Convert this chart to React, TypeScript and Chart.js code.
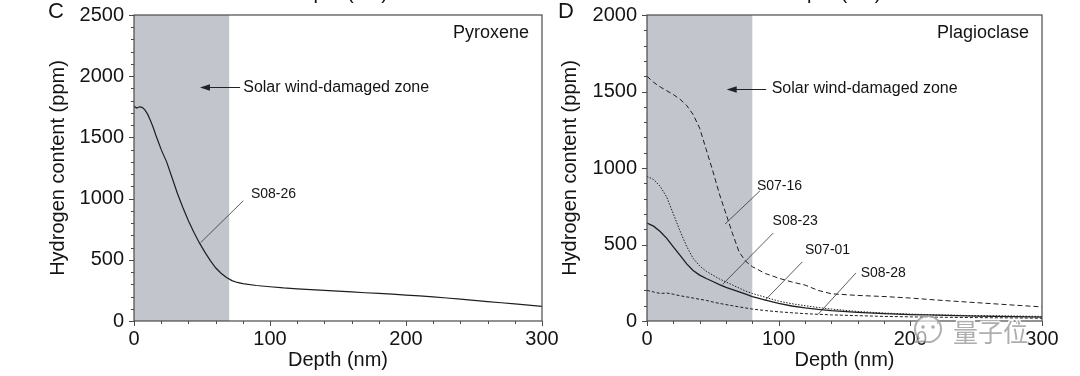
import React, { useEffect, useRef } from 'react';
import { Chart, registerables } from 'chart.js';

Chart.register(...registerables);

const FONT = '"Liberation Sans", Arial, Helvetica, sans-serif';
const INK = '#141414';

// ---------- Panel C (Pyroxene) ----------
const depthC = [0, 2, 4, 6, 8, 10, 12, 14, 16, 18, 20, 24, 28, 32, 36, 40, 44, 48, 52, 56, 60, 64, 68, 72, 76, 80, 90, 100, 110, 120, 130, 140, 150, 160, 170, 180, 190, 200, 210, 220, 230, 240, 250, 260, 270, 280, 290, 300];
const s0826 = [1755, 1740, 1750, 1745, 1725, 1690, 1640, 1585, 1520, 1460, 1400, 1300, 1170, 1040, 925, 820, 725, 640, 565, 495, 435, 390, 355, 330, 315, 305, 290, 280, 270, 263, 256, 250, 244, 238, 231, 225, 219, 212, 205, 197, 188, 178, 168, 158, 149, 140, 130, 120];

// ---------- Panel D (Plagioclase) ----------
const depthD = [0, 5, 10, 15, 20, 25, 30, 35, 40, 45, 50, 55, 60, 65, 70, 75, 80, 90, 100, 110, 120, 130, 140, 160, 180, 200, 220, 250, 280, 300];
const s0716 = [1600, 1560, 1530, 1505, 1480, 1450, 1410, 1350, 1260, 1120, 980, 830, 700, 570, 450, 390, 355, 310, 280, 255, 235, 200, 178, 167, 160, 150, 137, 120, 103, 92];
const s0823 = [640, 620, 585, 540, 485, 430, 375, 330, 300, 278, 258, 238, 220, 205, 190, 175, 160, 137, 115, 98, 86, 76, 68, 57, 48, 42, 38, 32, 28, 25];
const s0701 = [945, 925, 880, 810, 700, 590, 490, 410, 360, 325, 300, 275, 255, 235, 215, 195, 180, 155, 130, 113, 100, 88, 78, 62, 52, 45, 40, 35, 32, 30];
const s0828 = [200, 190, 180, 183, 175, 165, 158, 150, 142, 135, 124, 115, 107, 100, 92, 85, 78, 68, 60, 54, 48, 44, 40, 35, 30, 27, 25, 22, 20, 18];

const xMax = 300;
const xStep = 100;
const xMinorStep = 20;
const yMaxC = 2500;
const yMaxD = 2000;
const yStep = 500;
const yMinorStep = 100;
const zoneEndC = 70;
const zoneEndD = 80;

type Leader = { text: string; tx: number; ty: number; x1: number; y1: number; x2: number; y2: number };

type PanelCfg = {
  letter: string;
  letterX: number;
  mineral: string;
  zoneEnd: number;
  zoneLabel: { tx: number; ty: number; from: number; to: number };
  leaders: Leader[];
  topTitleShift: number;
  watermark: boolean;
};

const panelC: PanelCfg = {
  letter: 'C',
  letterX: 48,
  mineral: 'Pyroxene',
  zoneEnd: zoneEndC,
  zoneLabel: { tx: 80.3, ty: 1909, from: 78, to: 48.5 },
  leaders: [{ text: 'S08-26', tx: 86, ty: 1037, x1: 80.4, y1: 983, x2: 49, y2: 640 }],
  topTitleShift: 0,
  watermark: false,
};

const panelD: PanelCfg = {
  letter: 'D',
  letterX: 13,
  mineral: 'Plagioclase',
  zoneEnd: zoneEndD,
  zoneLabel: { tx: 94.7, ty: 1519, from: 90.5, to: 60.5 },
  leaders: [
    { text: 'S07-16', tx: 83.5, ty: 882, x1: 85.8, y1: 851, x2: 59.2, y2: 633 },
    { text: 'S08-23', tx: 95.4, ty: 652, x1: 95.9, y1: 575, x2: 57.5, y2: 240 },
    { text: 'S07-01', tx: 120, ty: 462, x1: 117.9, y1: 386, x2: 89.6, y2: 135 },
    { text: 'S08-28', tx: 162.3, ty: 310, x1: 158.7, y1: 314, x2: 130, y2: 44 },
  ],
  topTitleShift: -13,
  watermark: true,
};

function decorPlugin(cfg: PanelCfg) {
  return {
    id: 'decor' + cfg.letter,
    beforeDatasetsDraw(chart: any) {
      const { ctx, chartArea } = chart;
      const xs = chart.scales.x;
      const x0 = xs.getPixelForValue(0);
      const x1 = xs.getPixelForValue(cfg.zoneEnd);
      ctx.save();
      ctx.fillStyle = '#c2c6cc';
      ctx.fillRect(x0, chartArea.top, x1 - x0, chartArea.bottom - chartArea.top);
      ctx.restore();
    },
    afterDatasetsDraw(chart: any) {
      const { ctx, chartArea } = chart;
      const xs = chart.scales.x;
      const ys = chart.scales.y;
      const X = (v: number) => xs.getPixelForValue(v);
      const Y = (v: number) => ys.getPixelForValue(v);
      ctx.save();
      // frame
      ctx.strokeStyle = '#4a4a4a';
      ctx.lineWidth = 1.2;
      ctx.strokeRect(chartArea.left, chartArea.top, chartArea.right - chartArea.left, chartArea.bottom - chartArea.top);
      // ticks
      ctx.lineWidth = 1;
      ctx.beginPath();
      for (let v = 0; v <= ys.max + 0.001; v += yMinorStep) {
        const len = v % yStep === 0 ? 5 : 3;
        const y = Math.round(Y(v)) + 0.5;
        ctx.moveTo(chartArea.left, y);
        ctx.lineTo(chartArea.left - len, y);
      }
      for (let v = 0; v <= xMax + 0.001; v += xMinorStep) {
        const len = v % xStep === 0 ? 5 : 3;
        const x = Math.round(X(v)) + 0.5;
        ctx.moveTo(x, chartArea.bottom);
        ctx.lineTo(x, chartArea.bottom + len);
      }
      ctx.stroke();

      // mineral label
      ctx.fillStyle = INK;
      ctx.font = `18px ${FONT}`;
      ctx.textAlign = 'right';
      ctx.textBaseline = 'middle';
      ctx.fillText(cfg.mineral, chartArea.right - 13, chartArea.top + 18);

      // zone label + arrow
      const zl = cfg.zoneLabel;
      ctx.font = `16px ${FONT}`;
      ctx.textAlign = 'left';
      ctx.fillText('Solar wind-damaged zone', X(zl.tx), Y(zl.ty));
      const ay = Math.round(Y(zl.ty)) + 0.5;
      const tip = X(zl.to);
      ctx.strokeStyle = '#222';
      ctx.lineWidth = 1;
      ctx.beginPath();
      ctx.moveTo(X(zl.from), ay);
      ctx.lineTo(tip + 6, ay);
      ctx.stroke();
      ctx.fillStyle = '#222';
      ctx.beginPath();
      ctx.moveTo(tip, ay);
      ctx.lineTo(tip + 10, ay - 3.2);
      ctx.lineTo(tip + 10, ay + 3.2);
      ctx.closePath();
      ctx.fill();

      // sample leaders
      ctx.font = `14px ${FONT}`;
      ctx.fillStyle = INK;
      ctx.strokeStyle = '#333';
      ctx.lineWidth = 0.8;
      cfg.leaders.forEach((l) => {
        ctx.fillText(l.text, X(l.tx), Y(l.ty));
        ctx.beginPath();
        ctx.moveTo(X(l.x1), Y(l.y1));
        ctx.lineTo(X(l.x2), Y(l.y2));
        ctx.stroke();
      });
      ctx.restore();
    },
    afterDraw(chart: any) {
      const { ctx, chartArea } = chart;
      ctx.save();
      ctx.fillStyle = INK;
      // panel letter
      ctx.font = `22px ${FONT}`;
      ctx.textAlign = 'left';
      ctx.textBaseline = 'alphabetic';
      ctx.fillText(cfg.letter, cfg.letterX, 18);
      // cut-off axis title of the panel above
      ctx.font = `20px ${FONT}`;
      ctx.textAlign = 'center';
      ctx.fillText('Depth (nm)', (chartArea.left + chartArea.right) / 2 + cfg.topTitleShift, -1);
      if (cfg.watermark) {
        const cx = 928 - 545;
        const cy = 329;
        ctx.lineWidth = 2;
        ctx.strokeStyle = 'rgba(150,150,150,0.75)';
        ctx.fillStyle = 'rgba(255,255,255,0.6)';
        ctx.beginPath();
        ctx.arc(cx, cy, 13, 0.75 * Math.PI, 2.6 * Math.PI);
        ctx.lineTo(cx - 12, cy + 13);
        ctx.closePath();
        ctx.fill();
        ctx.stroke();
        ctx.fillStyle = 'rgba(150,150,150,0.8)';
        ctx.beginPath();
        ctx.arc(cx - 5, cy - 2, 1.8, 0, Math.PI * 2);
        ctx.arc(cx + 5, cy - 2, 1.8, 0, Math.PI * 2);
        ctx.fill();
        ctx.font = `25px "Noto Sans CJK SC", sans-serif`;
        ctx.textAlign = 'left';
        ctx.textBaseline = 'alphabetic';
        ctx.lineWidth = 3;
        ctx.strokeStyle = 'rgba(255,255,255,0.9)';
        ctx.strokeText('量子位', 953 - 545, 342);
        ctx.fillStyle = 'rgba(160,160,160,0.85)';
        ctx.fillText('量子位', 953 - 545, 342);
      }
      ctx.restore();
    },
  };
}

const plainNumber = (v: any) => String(v);

function buildConfig(cfg: PanelCfg, datasets: any[], yMax: number, yAxisWidth: number, yTitlePad: number) {
  return {
    type: 'line' as const,
    data: { datasets },
    options: {
      responsive: false,
      animation: false as const,
      devicePixelRatio: 1,
      layout: { padding: { left: 0, right: 38, top: 15, bottom: 0 } },
      plugins: { legend: { display: false }, tooltip: { enabled: false } },
      elements: { point: { radius: 0 }, line: { tension: 0 } },
      scales: {
        x: {
          type: 'linear' as const,
          min: 0,
          max: xMax,
          ticks: { stepSize: xStep, padding: 6, color: INK, font: { family: FONT, size: 20 }, maxRotation: 0, autoSkip: false, callback: plainNumber },
          grid: { display: false, drawTicks: false },
          border: { display: false },
          title: { display: true, text: 'Depth (nm)', color: INK, font: { family: FONT, size: 20 }, padding: { top: 0, bottom: 4 } },
          afterFit: (s: any) => {
            s.height = 55;
            s.paddingLeft = 0;
            s.paddingRight = 0;
          },
        },
        y: {
          type: 'linear' as const,
          min: 0,
          max: yMax,
          ticks: { stepSize: yStep, padding: 10, color: INK, font: { family: FONT, size: 20 }, callback: plainNumber },
          grid: { display: false, drawTicks: false },
          border: { display: false },
          title: { display: true, text: 'Hydrogen content (ppm)', color: INK, font: { family: FONT, size: 20 }, padding: { top: yTitlePad, bottom: 0 } },
          afterFit: (s: any) => {
            s.width = yAxisWidth;
            s.paddingTop = 0;
            s.paddingBottom = 0;
          },
        },
      },
    },
    plugins: [decorPlugin(cfg)],
  };
}

const pts = (xs: number[], ys: number[]) => xs.map((x, i) => ({ x, y: ys[i] }));

export default function App() {
  const refC = useRef<HTMLCanvasElement>(null);
  const refD = useRef<HTMLCanvasElement>(null);

  useEffect(() => {
    const chartC = new Chart(
      refC.current as HTMLCanvasElement,
      buildConfig(
        panelC,
        [{ label: 'S08-26', data: pts(depthC, s0826), borderColor: '#1e1e1e', borderWidth: 1.2 }],
        yMaxC,
        134,
        46
      ) as any
    );
    const chartD = new Chart(
      refD.current as HTMLCanvasElement,
      buildConfig(
        panelD,
        [
          { label: 'S07-16', data: pts(depthD, s0716), borderColor: '#1e1e1e', borderWidth: 1, borderDash: [5, 3] },
          { label: 'S08-23', data: pts(depthD, s0823), borderColor: '#1e1e1e', borderWidth: 1.3 },
          { label: 'S07-01', data: pts(depthD, s0701), borderColor: '#1e1e1e', borderWidth: 1, borderDash: [1.5, 1.5] },
          { label: 'S08-28', data: pts(depthD, s0828), borderColor: '#1e1e1e', borderWidth: 1, borderDash: [3, 2] },
        ],
        yMaxD,
        102,
        13
      ) as any
    );
    return () => {
      chartC.destroy();
      chartD.destroy();
    };
  }, []);

  return (
    <div style={{ position: 'fixed', left: 0, top: 0, width: 1080, height: 376, background: '#ffffff', overflow: 'hidden' }}>
      <canvas ref={refC} width={580} height={376} style={{ position: 'absolute', left: 0, top: 0, width: 580, height: 376 }} />
      <canvas ref={refD} width={535} height={376} style={{ position: 'absolute', left: 545, top: 0, width: 535, height: 376 }} />
    </div>
  );
}
